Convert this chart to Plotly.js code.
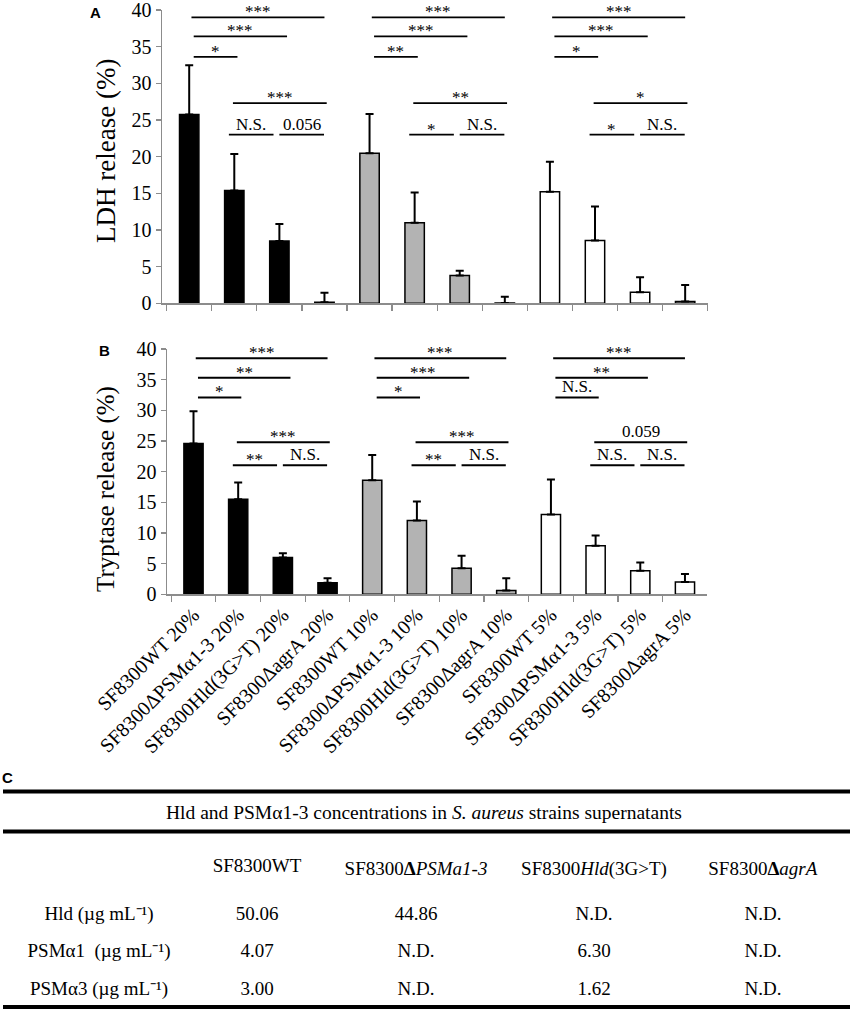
<!DOCTYPE html>
<html>
<head>
<meta charset="utf-8">
<script src="https://cdn.plot.ly/plotly-3.0.1.min.js"></script>
<style>html,body{margin:0;padding:0;background:#fff;}#chart{width:852px;height:1013px;}</style>
</head>
<body>
<div id="chart"></div>
<script>
// ---------- data ----------
const categories = [
  'SF8300WT 20%', 'SF8300ΔPSMα1-3 20%', 'SF8300Hld(3G>T) 20%', 'SF8300ΔagrA 20%',
  'SF8300WT 10%', 'SF8300ΔPSMα1-3 10%', 'SF8300Hld(3G>T) 10%', 'SF8300ΔagrA 10%',
  'SF8300WT 5%',  'SF8300ΔPSMα1-3 5%',  'SF8300Hld(3G>T) 5%',  'SF8300ΔagrA 5%'
];
const ldhMean = [25.75, 15.4, 8.5, 0.15, 20.45, 11.0, 3.8, 0.05, 15.2, 8.55, 1.5, 0.25];
const ldhErr  = [6.7, 4.95, 2.3, 1.3, 5.35, 4.1, 0.65, 0.85, 4.1, 4.65, 2.05, 2.25];
const trypMean = [24.6, 15.5, 6.0, 1.9, 18.6, 12.05, 4.25, 0.6, 13.0, 7.9, 3.85, 2.0];
const trypErr  = [5.25, 2.75, 0.7, 0.7, 4.1, 3.1, 2.05, 2.0, 5.7, 1.7, 1.35, 1.3];
const ldhTitle = 'LDH release (%)';
const trypTitle = 'Tryptase release (%)';

// significance comparisons (pairs within each group of 4 strains)
const pairs = [[0,3],[0,2],[0,1],[1,3],[1,2],[2,3]];
const ldhLevels  = [39, 36.4, 33.6, 27.3, 23, 23];
const trypLevels = [38.5, 35.3, 32.1, 24.8, 21.05, 21.05];
const ldhLabels = [
  ['***','***','*','***','N.S.','0.056'],
  ['***','***','**','**','*','N.S.'],
  ['***','***','*','*','*','N.S.']
];
const trypLabels = [
  ['***','**','*','***','**','N.S.'],
  ['***','***','*','***','**','N.S.'],
  ['***','**','N.S.','0.059','N.S.','N.S.']
];

// table C
const tableTitle = 'Hld and PSMα1-3 concentrations in <i>S. aureus</i> strains supernatants';
const tableHeader = ['', 'SF8300WT', 'SF8300<b>Δ</b><i>PSMa1-3</i>', 'SF8300<i>Hld</i>(3G&gt;T)', 'SF8300<b>Δ</b><i>agrA</i>'];
const rowLabels = ['Hld (µg mL⁻¹)', 'PSMα1  (µg mL⁻¹)', 'PSMα3 (µg mL⁻¹)'];
const colWT   = ['50.06', '4.07', '3.00'];
const colDPSM = ['44.86', 'N.D.', 'N.D.'];
const colHld  = ['N.D.', '6.30', '1.62'];
const colAgr  = ['N.D.', 'N.D.', 'N.D.'];

// ---------- style ----------
const W = 852, H = 1013;
const serif = "'Liberation Serif', 'Times New Roman', serif";
const groupFill = ['#000000', '#b3b3b3', '#ffffff'];
const barColors = categories.map((c, i) => groupFill[Math.floor(i / 4)]);
// small horizontal offsets (in category units) for the bracket ends
const pairOffsets = {'0-3':[0.05,0.0], '0-2':[0.1,0.17], '0-1':[0.1,0.07], '1-3':[-0.03,0.05], '1-2':[-0.12,-0.13], '2-3':[0.0,-0.01]};
const px = v => v / W;
const py = v => (H - v) / H;

function barTrace(y, err, xa, ya) {
  return {
    type: 'bar', x: categories, y: y, xaxis: xa, yaxis: ya,
    width: 0.43,
    marker: {color: barColors, line: {color: '#000', width: 1.5}},
    error_y: {type: 'data', symmetric: false, array: err, arrayminus: err.map(() => 0),
              color: '#000', thickness: 2, width: 4},
    hoverinfo: 'skip', showlegend: false
  };
}

const shapes = [], annotations = [];
function addBrackets(levels, labels, xa, ya, lw) {
  labels.forEach((grp, g) => {
    pairs.forEach((p, k) => {
      const off = pairOffsets[p[0] + '-' + p[1]];
      const a = g * 4 + p[0], b = g * 4 + p[1];
      const x0 = a + off[0], x1 = b + off[1];
      shapes.push({type: 'line', xref: xa, yref: ya, x0: x0, x1: x1, y0: levels[k], y1: levels[k],
                   line: {color: '#000', width: lw}});
      const t = grp[k];
      annotations.push({xref: xa, yref: ya, x: (x0 + x1) / 2, y: levels[k], text: t,
                        showarrow: false, yanchor: 'bottom', yshift: t.indexOf('*') >= 0 ? -6 : -1,
                        font: {family: serif, size: 17, color: '#000'}});
    });
  });
}
addBrackets(ldhLevels, ldhLabels, 'x', 'y', 1.8);
addBrackets(trypLevels, trypLabels, 'x2', 'y2', 2);

// y-axis titles (placed as rotated annotations to match the reference offsets)
annotations.push({xref: 'paper', yref: 'paper', x: px(106), y: py(151), text: ldhTitle, textangle: -90,
                  showarrow: false, xanchor: 'center', yanchor: 'middle',
                  font: {family: serif, size: 27, color: '#000'}});
annotations.push({xref: 'paper', yref: 'paper', x: px(106), y: py(489), text: trypTitle, textangle: -90,
                  showarrow: false, xanchor: 'center', yanchor: 'middle',
                  font: {family: serif, size: 25, color: '#000'}});

// panel letters
[['A', 95, 13], ['B', 104, 350], ['C', 7, 777]].forEach(l => {
  annotations.push({xref: 'paper', yref: 'paper', x: px(l[1]), y: py(l[2]), text: '<b>' + l[0] + '</b>',
                    showarrow: false, xanchor: 'center', yanchor: 'middle',
                    font: {family: "'Liberation Sans', Arial, sans-serif", size: 15, color: '#000'}});
});
// table title
annotations.push({xref: 'paper', yref: 'paper', x: px(424), y: py(812), text: tableTitle, showarrow: false,
                  xanchor: 'center', yanchor: 'middle', font: {family: serif, size: 19.5, color: '#000'}});
// table rules
[791.5, 831.5, 1007].forEach(yy => {
  shapes.push({type: 'line', xref: 'paper', yref: 'paper', x0: px(3), x1: px(850), y0: py(yy), y1: py(yy),
               line: {color: '#000', width: 4}, layer: 'above'});
});

const tableTrace = {
  type: 'table',
  domain: {x: [px(2), 1], y: [0, py(849.5)]},
  columnwidth: [194, 122, 196, 160, 178],
  header: {values: tableHeader, align: 'center', height: 48,
           fill: {color: '#fff'}, line: {width: 0, color: '#fff'},
           font: {family: serif, size: 19, color: '#000'}},
  cells: {values: [rowLabels, colWT, colDPSM, colHld, colAgr], align: 'center', height: 37.5,
          fill: {color: '#fff'}, line: {width: 0, color: '#fff'},
          font: {family: serif, size: 19, color: '#000'}}
};

const axisCommon = {
  type: 'category', showline: true, linecolor: '#8c8c8c', linewidth: 1.2,
  ticks: 'outside', tickson: 'boundaries', ticklen: 6, tickcolor: '#8c8c8c', tickwidth: 1.2,
  showgrid: false, zeroline: false, fixedrange: true, ticklabeloverflow: 'allow'
};
const yCommon = {
  range: [0, 40], dtick: 5, showline: true, linecolor: '#8c8c8c', linewidth: 1.2,
  ticks: 'outside', ticklen: 5, tickcolor: '#8c8c8c', tickwidth: 1.2,
  showgrid: false, zeroline: false, fixedrange: true, ticklabeloverflow: 'allow',
  tickfont: {family: serif, size: 20, color: '#000'}
};

const layout = {
  width: W, height: H, margin: {l: 0, r: 0, t: 0, b: 0},
  paper_bgcolor: '#fff', plot_bgcolor: 'rgba(0,0,0,0)',
  showlegend: false, barmode: 'overlay',
  xaxis: Object.assign({}, axisCommon, {domain: [px(161.7), px(707.7)], range: [-0.61, 11.5],
                        showticklabels: false, anchor: 'y'}),
  yaxis: Object.assign({}, yCommon, {domain: [py(303.3), py(10)], anchor: 'x'}),
  xaxis2: Object.assign({}, axisCommon, {domain: [px(166.7), px(707.3)], range: [-0.6, 11.5],
                        anchor: 'y2', tickangle: -45, tickfont: {family: serif, size: 20, color: '#000'}}),
  yaxis2: Object.assign({}, yCommon, {domain: [py(594.3), py(349)], anchor: 'x2'}),
  shapes: shapes,
  annotations: annotations
};

Plotly.newPlot('chart', [barTrace(ldhMean, ldhErr, 'x', 'y'), barTrace(trypMean, trypErr, 'x2', 'y2'), tableTrace],
               layout, {displayModeBar: false, staticPlot: true});
</script>
</body>
</html>
